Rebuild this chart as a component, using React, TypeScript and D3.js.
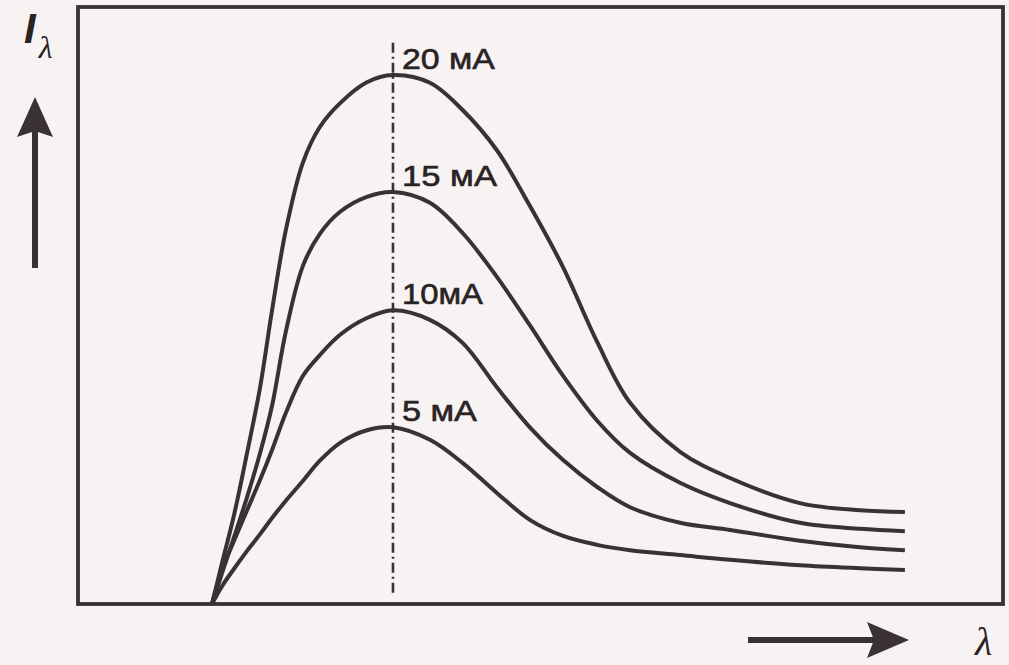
import React, { useEffect, useRef } from 'react';
import * as d3 from 'd3';

// λ / λ0 values (curves start at λ0, peak at 1.5 λ0)
const lambdas = [
  1.0, 1.028, 1.061, 1.097, 1.133, 1.166, 1.204, 1.251, 1.298, 1.354, 1.428, 1.5,
  1.602, 1.693, 1.787, 1.878, 1.97, 2.064, 2.155, 2.293, 2.431, 2.624, 2.79, 2.914,
];

// intensity, arbitrary units (0..100 = frame height)
const i20 = [0, 6.9, 14.9, 25.3, 36.3, 49.2, 62.6, 73.9, 79.9, 83.9, 87.4, 88.6, 87.3, 82.7, 76.0, 66.7, 56.4, 43.9, 33.7, 25.5, 21.1, 16.9, 15.7, 15.4];
const i15 = [0, 5.2, 11.2, 17.9, 25.3, 33.2, 45.6, 56.6, 62.0, 65.7, 68.2, 69.0, 67.2, 62.1, 54.8, 46.7, 38.2, 30.7, 25.3, 20.3, 16.9, 13.6, 12.6, 12.2];
const i10 = [0, 5.7, 10.6, 15.7, 20.8, 25.8, 32.0, 38.2, 41.7, 45.1, 47.9, 49.2, 47.6, 43.7, 36.3, 29.6, 24.1, 19.6, 16.2, 13.6, 12.4, 10.6, 9.5, 9.0];
const i5 = [0, 3.0, 5.9, 8.9, 11.7, 14.4, 17.3, 20.6, 24.0, 27.0, 29.1, 29.6, 27.5, 23.6, 18.6, 14.1, 11.4, 9.9, 9.0, 8.2, 7.4, 6.5, 6.0, 5.7];

const seriesLabels = ['20 мА', '15 мА', '10мА', '5 мА'];
const seriesValues = [i20, i15, i10, i5];

const xDomain = [0.63, 3.185];
const yDomain = [0, 100];
const peakLambda = 1.5;
const markerTop = 94;
const markerBottom = 1.2;

const W = 1009;
const H = 665;
const ink = '#3a3232';
const textInk = '#2a2323';
const labelWidths = [93, 95, 81, 75];

const App: React.FC = () => {
  const ref = useRef<SVGSVGElement>(null);

  useEffect(() => {
    if (!ref.current) return;
    document.body.style.margin = '0';
    const svg = d3.select(ref.current);
    svg.selectAll('*').remove();

    const margin = { top: 7, right: 6, bottom: 61, left: 78 };
    const x = d3.scaleLinear().domain(xDomain).range([margin.left, W - margin.right]);
    const y = d3.scaleLinear().domain(yDomain).range([H - margin.bottom, margin.top]);

    svg.append('rect').attr('width', W).attr('height', H).attr('fill', '#f8f3f3');

    // cadre
    svg.append('rect')
      .attr('x', margin.left)
      .attr('y', margin.top)
      .attr('width', W - margin.left - margin.right)
      .attr('height', H - margin.top - margin.bottom)
      .attr('fill', 'none')
      .attr('stroke', ink)
      .attr('stroke-width', 3.8);

    // ligne du maximum
    svg.append('line')
      .attr('x1', x(peakLambda)).attr('x2', x(peakLambda))
      .attr('y1', y(markerTop)).attr('y2', y(markerBottom))
      .attr('stroke', ink)
      .attr('stroke-width', 2.6)
      .attr('stroke-dasharray', '10 4 2 4');

    const line = d3.line<number>()
      .x((_, i) => x(lambdas[i]))
      .y(d => y(d))
      .curve(d3.curveCatmullRom.alpha(0.5));

    svg.selectAll('.curve')
      .data(seriesValues)
      .enter()
      .append('path')
      .attr('class', 'curve')
      .attr('d', d => line(d))
      .attr('fill', 'none')
      .attr('stroke', ink)
      .attr('stroke-width', 4)
      .attr('stroke-linejoin', 'round');

    const peakIdx = lambdas.indexOf(peakLambda);
    svg.selectAll('.label')
      .data(seriesValues)
      .enter()
      .append('text')
      .attr('class', 'label')
      .attr('x', x(peakLambda) + 9)
      .attr('y', d => y(d[peakIdx]) - 6)
      .attr('font-family', 'Liberation Sans, Arial, sans-serif')
      .attr('font-size', 30)
      .attr('fill', textInk)
      .attr('stroke', textInk)
      .attr('stroke-width', 0.6)
      .attr('textLength', (_, i) => labelWidths[i])
      .attr('lengthAdjust', 'spacingAndGlyphs')
      .text((_, i) => seriesLabels[i]);

    // flèche verticale
    svg.append('line')
      .attr('x1', 35).attr('x2', 35).attr('y1', 268).attr('y2', 128)
      .attr('stroke', ink).attr('stroke-width', 6);
    svg.append('path')
      .attr('d', 'M35,97 L53,137 L35,131 L17,137 Z')
      .attr('fill', ink);

    // flèche horizontale
    svg.append('line')
      .attr('x1', 748).attr('x2', 878).attr('y1', 640).attr('y2', 640)
      .attr('stroke', ink).attr('stroke-width', 6);
    svg.append('path')
      .attr('d', 'M909,640 L867,622 L874,640 L867,658 Z')
      .attr('fill', ink);

    // I_λ
    const yl = svg.append('text')
      .attr('x', 24).attr('y', 43)
      .attr('fill', textInk);
    yl.append('tspan')
      .attr('font-family', 'Liberation Sans, Arial, sans-serif')
      .attr('font-style', 'italic')
      .attr('font-weight', 'bold')
      .attr('font-size', 42)
      .text('I');
    yl.append('tspan')
      .attr('font-family', 'Liberation Serif, Times New Roman, serif')
      .attr('font-style', 'italic')
      .attr('font-size', 32)
      .attr('dx', 3)
      .attr('dy', 15)
      .text('λ');

    svg.append('text')
      .attr('x', 975).attr('y', 655)
      .attr('font-family', 'Liberation Serif, Times New Roman, serif')
      .attr('font-style', 'italic')
      .attr('font-size', 40)
      .attr('fill', textInk)
      .text('λ');
  }, []);

  return (
    <svg ref={ref} width={W} height={H} style={{ display: 'block', position: 'absolute', left: 0, top: 0 }} />
  );
};

export default App;
